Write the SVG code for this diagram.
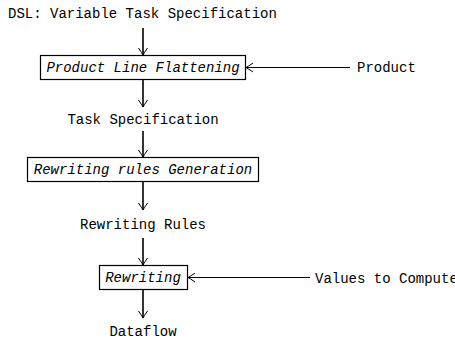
<svg xmlns="http://www.w3.org/2000/svg" width="455" height="342" viewBox="0 0 455 342">
  <style>
    text { font-family: "Liberation Mono", "DejaVu Sans Mono", monospace; font-size: 14px; fill: #000; }
    .step text { font-style: italic; text-anchor: middle; }
    .data { text-anchor: middle; }
    .box { fill: #fff; stroke: #000; stroke-width: 1.2; }
    .flow { stroke: #000; stroke-width: 1.6; fill: none; marker-end: url(#tip); }
    .side { stroke: #000; stroke-width: 1; fill: none; marker-end: url(#tip); }
  </style>
  <defs>
    <marker id="tip" viewBox="-8 -5 9 10" refX="0" refY="0" markerWidth="9" markerHeight="10" markerUnits="userSpaceOnUse" orient="auto">
      <path d="M -7 -4.5 Q -2 -1 0 0 Q -2 1 -7 4.5" fill="none" stroke="#000" stroke-width="1"/>
    </marker>
  </defs>

  <rect width="455" height="342" fill="#fff"/>

  <!-- data artefacts -->
  <g id="dsl"><text x="8" y="18">DSL: Variable Task Specification</text></g>
  <g id="product"><text x="357" y="72">Product</text></g>
  <g id="task-spec"><text class="data" x="143" y="124">Task Specification</text></g>
  <g id="rules"><text class="data" x="143" y="229">Rewriting Rules</text></g>
  <g id="values"><text x="315" y="283">Values to Compute</text></g>
  <g id="dataflow"><text class="data" x="143" y="336">Dataflow</text></g>

  <!-- processing steps -->
  <g id="flattening" class="step">
    <rect class="box" x="40.5" y="55.5" width="205" height="24"/>
    <text x="143" y="72">Product Line Flattening</text>
  </g>
  <g id="generation" class="step">
    <rect class="box" x="27.5" y="157.5" width="231" height="24"/>
    <text x="143" y="174">Rewriting rules Generation</text>
  </g>
  <g id="rewriting" class="step">
    <rect class="box" x="99.5" y="265.5" width="88" height="24"/>
    <text x="143" y="282">Rewriting</text>
  </g>

  <!-- connectors -->
  <g id="connectors">
    <line class="flow" x1="143" y1="28" x2="143" y2="55"/>
    <line class="side" x1="350" y1="67.5" x2="246" y2="67.5"/>
    <line class="flow" x1="143" y1="80" x2="143" y2="107"/>
    <line class="flow" x1="143" y1="131" x2="143" y2="157"/>
    <line class="flow" x1="143" y1="182" x2="143" y2="210"/>
    <line class="flow" x1="143" y1="238" x2="143" y2="265"/>
    <line class="side" x1="310" y1="277.5" x2="188" y2="277.5"/>
    <line class="flow" x1="143" y1="290" x2="143" y2="318"/>
  </g>
</svg>
